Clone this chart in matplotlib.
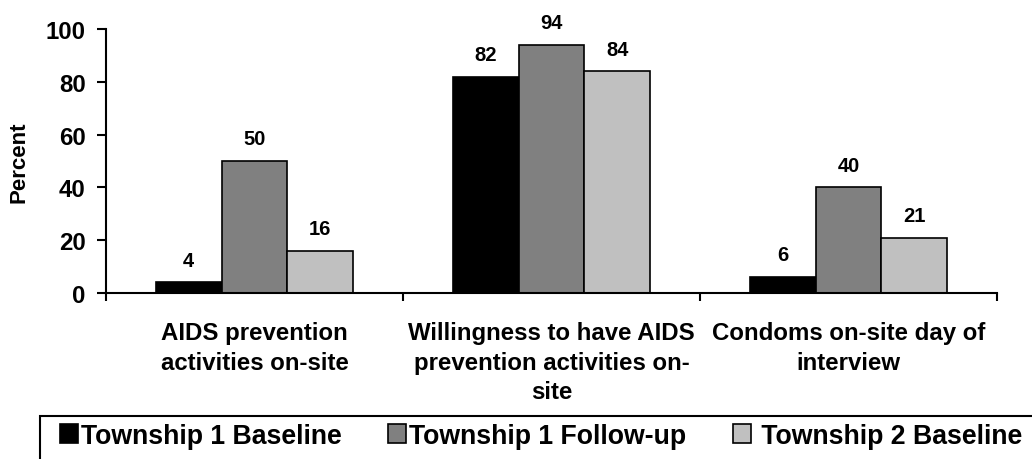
import matplotlib
matplotlib.use("Agg")
import matplotlib.pyplot as plt
import numpy as np
from matplotlib.patches import Rectangle

categories = ["AIDS prevention\nactivities on-site",
              "Willingness to have AIDS\nprevention activities on-\nsite",
              "Condoms on-site day of\ninterview"]
series_names = ["Township 1 Baseline", "Township 1 Follow-up", " Township 2 Baseline"]
t1_baseline = [4, 82, 6]
t1_followup = [50, 94, 40]
t2_baseline = [16, 84, 21]
y_ticks = [0, 20, 40, 60, 80, 100]

plt.rcParams['font.family'] = ['Liberation Sans', 'DejaVu Sans']
plt.rcParams['font.weight'] = 'bold'

fig = plt.figure(figsize=(10.32, 4.6), dpi=100)
ax = fig.add_axes([106/1032, 1-294/460, (997-106)/1032, (294-30)/460])

colors = ['#000000', '#808080', '#C0C0C0']
series = [t1_baseline, t1_followup, t2_baseline]
w = 0.222
x = np.arange(len(categories))
handles = []
for i, (vals, c, name) in enumerate(zip(series, colors, series_names)):
    bars = ax.bar(x + (i-1)*w, vals, width=w, color=c, edgecolor='black',
                  linewidth=1.2, label=name)
    handles.append(bars)
    for xi, v in zip(x + (i-1)*w, vals):
        ax.annotate(str(v), (xi, v), xytext=(0, 12), textcoords='offset points',
                    ha='center', va='baseline', fontsize=14.5, fontweight='bold')

ax.set_xlim(-0.5, 2.5)
ax.set_ylim(0, 100)
ax.set_yticks(y_ticks)
ax.set_yticklabels([str(t) for t in y_ticks], fontsize=17.3, fontweight='bold')
ax.set_xticks([-0.5, 0.5, 1.5, 2.5])
ax.set_xticklabels([])
ax.set_xticks(x, minor=True)
ax.set_xticklabels(categories, minor=True, fontsize=17.3, fontweight='bold', linespacing=1.38)
ax.tick_params(axis='x', which='minor', length=0, pad=20)
ax.tick_params(axis='x', which='major', length=6, width=1.5, direction='out')
ax.tick_params(axis='y', length=6.5, width=1.5, direction='out', pad=8)
for s in ['top', 'right']:
    ax.spines[s].set_visible(False)
for s in ['left', 'bottom']:
    ax.spines[s].set_linewidth(1.5)
ax.set_ylabel("Percent", fontsize=16, fontweight='bold', labelpad=12)

# legend frame
fig.patches.append(Rectangle((40/1032, -0.1), 1.1, (460-417)/460 + 0.1,
                             transform=fig.transFigure, facecolor='white',
                             edgecolor='black', linewidth=1.5, zorder=0))
leg = fig.legend(handles=handles, labels=series_names, loc='center left',
                 bbox_to_anchor=(60/1032, 1-437/460), ncol=3, frameon=False,
                 fontsize=19.2, handlelength=0.68, handleheight=0.68,
                 handletextpad=0.1, columnspacing=1.75, borderaxespad=0,
                 borderpad=0)
fig.savefig("out.png", dpi=100)
